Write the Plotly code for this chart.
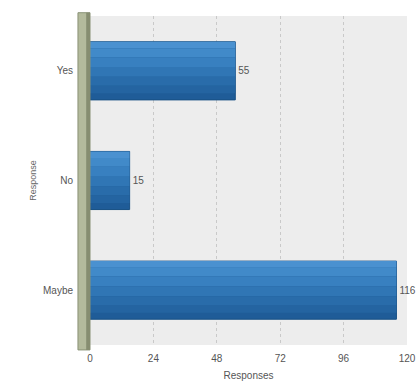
import plotly.graph_objects as go

categories = ["Yes", "No", "Maybe"]
responses = [55, 15, 116]
tick_vals = [0, 24, 48, 72, 96, 120]

font_fam = "Liberation Sans Narrow, Liberation Sans, Arial, sans-serif"

fig = go.Figure()
# main bar body (dark base)
fig.add_trace(go.Bar(
    y=categories, x=responses, orientation="h", width=0.53,
    marker=dict(color="#1f5c98", line=dict(color="#174f84", width=1)),
    text=[str(v) for v in responses], textposition="outside",
    textfont=dict(family=font_fam, size=10, color="#555555"),
    cliponaxis=False, hoverinfo="x+y",
))
# gradient bands, light at the top to dark at the bottom
bands = [(-0.265, 0.06, "#4a91d0"), (-0.205, 0.08, "#418ac9"), (-0.125, 0.09, "#3880c0"),
         (-0.035, 0.09, "#3076b5"), (0.055, 0.08, "#296caa"), (0.135, 0.07, "#2464a1")]
for off, w, col in bands:
    fig.add_trace(go.Bar(
        y=categories, x=responses, orientation="h", width=w, offset=off,
        marker=dict(color=col, line=dict(width=0)),
        hoverinfo="skip", showlegend=False,
    ))

fig.update_layout(
    width=416, height=381,
    margin=dict(l=90, r=9, t=16, b=36, autoexpand=False),
    paper_bgcolor="white",
    plot_bgcolor="#ededed",
    barmode="overlay",
    showlegend=False,
    font=dict(family=font_fam, size=10, color="#555555"),
    xaxis=dict(
        range=[0, 120], tickvals=tick_vals, ticktext=[str(t) for t in tick_vals],
        showgrid=True, gridcolor="#c9c9c9", griddash="dot", gridwidth=1,
        zeroline=False, showline=False, ticks="", ticklabelstandoff=6,
        tickfont=dict(size=10, color="#555555"),
        title=dict(text="Responses", font=dict(size=10, color="#555555"), standoff=8),
    ),
    yaxis=dict(
        categoryorder="array", categoryarray=categories, autorange="reversed",
        showgrid=False, zeroline=False, showline=False, ticks="",
        ticklabelstandoff=16,
        tickfont=dict(size=10, color="#555555"),
        title=dict(text="Response", font=dict(size=9, color="#666666"), standoff=4),
    ),
    shapes=[
        dict(type="rect", xref="paper", yref="paper", x0=-0.038, x1=0, y0=-0.015, y1=1.01,
             fillcolor="#b3ba9c", line=dict(color="#8a9276", width=1), layer="above"),
        dict(type="rect", xref="paper", yref="paper", x0=-0.012, x1=0, y0=-0.015, y1=1.01,
             fillcolor="#868d70", line=dict(width=0), layer="above"),
    ],
)

fig.write_html("out.html")
